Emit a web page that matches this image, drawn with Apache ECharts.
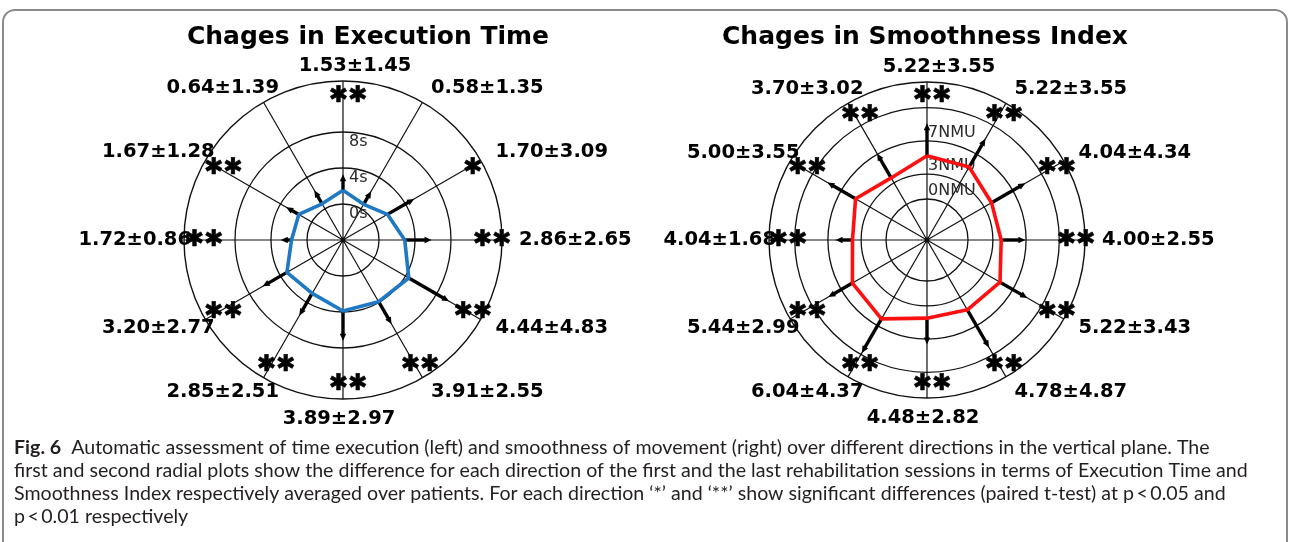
<!DOCTYPE html>
<html><head><meta charset="utf-8">
<script src="https://cdn.jsdelivr.net/npm/echarts@6/dist/echarts.min.js"></script>
<style>html,body{margin:0;padding:0;background:#fff}#c{width:1290px;height:542px}</style>
</head><body><div id="c"></div>
<script>
// ---- data ----
const directions = [90, 60, 30, 0, -30, -60, -90, -120, -150, 180, 150, 120];
const timeMean = [1.53, 0.58, 1.70, 2.86, 4.44, 3.91, 3.89, 2.85, 3.20, 1.72, 1.67, 0.64];
const timeStd  = [1.45, 1.35, 3.09, 2.65, 4.83, 2.55, 2.97, 2.51, 2.77, 0.86, 1.28, 1.39];
const timeSig  = ['**', '', '*', '**', '**', '**', '**', '**', '**', '**', '**', ''];
const smoothMean = [5.22, 5.22, 4.04, 4.00, 5.22, 4.78, 4.48, 6.04, 5.44, 4.04, 5.00, 3.70];
const smoothStd  = [3.55, 3.55, 4.34, 2.55, 3.43, 4.87, 2.82, 4.37, 2.99, 1.68, 3.55, 3.02];
const smoothSig  = ['**', '**', '**', '**', '**', '**', '**', '**', '**', '**', '**', '**'];
const timeRings = [0, 4, 8];
const timeTickLabels = [0, 4, 8];
const timeUnit = 's';
const smoothRings = [0, 3, 7, 11];
const smoothTickLabels = [0, 3, 7];
const smoothUnit = 'NMU';
const titles = ['Chages in Execution Time', 'Chages in Smoothness Index'];
const captionLines = [
  '{b|Fig. 6}  Automatic assessment of time execution (left) and smoothness of movement (right) over different directions in the vertical plane. The',
  'first and second radial plots show the difference for each direction of the first and the last rehabilitation sessions in terms of Execution Time and',
  'Smoothness Index respectively averaged over patients. For each direction \u2018*\u2019 and \u2018**\u2019 show significant differences (paired t-test) at p\u2009<\u20090.05 and',
  'p\u2009<\u20090.01 respectively'
];

// ---- layout/style ----
const FONT = '"DejaVu Sans"';
const panels = [
  {center: [343, 240], radius: 159, min: -4, max: 13.667, rings: timeRings, ticks: timeTickLabels, unit: timeUnit,
   mean: timeMean, std: timeStd, sig: timeSig, color: '#1f78c4', tickVA: 'top', tickMargin: -6, tickLH: 19, titleX: 368},
  {center: [927, 240], radius: 158, min: -4.94, max: 14.1, rings: smoothRings, ticks: smoothTickLabels, unit: smoothUnit,
   mean: smoothMean, std: smoothStd, sig: smoothSig, color: '#ff1010', tickVA: 'bottom', tickMargin: -1, tickLH: 16, titleX: 925}
];
// angle axis: value 0 at top, counter-clockwise; direction d (math degrees) -> axis value
const ang = d => ((d - 90) % 360 + 360) % 360;

const polar = [], angleAxis = [], radiusAxis = [], series = [], graphic = [];
panels.forEach((p, k) => {
  polar.push({center: p.center, radius: p.radius});
  angleAxis.push({polarIndex: k, type: 'value', min: 0, max: 360, interval: 30, startAngle: 90, clockwise: false,
    axisLine: {show: true, lineStyle: {color: '#111', width: 1.4}},
    axisTick: {show: false}, axisLabel: {show: false},
    splitLine: {show: true, lineStyle: {color: '#111', width: 1.2}}});
  radiusAxis.push({polarIndex: k, type: 'value', min: p.min, max: p.max,
    axisLine: {show: false},
    axisTick: {show: false, customValues: p.rings},
    axisLabel: {show: true, customValues: p.ticks, formatter: v => v + p.unit, margin: p.tickMargin, align: 'left',
      verticalAlign: p.tickVA, lineHeight: p.tickLH, fontFamily: FONT, fontSize: 16, color: '#2a2a2a'},
    splitLine: {show: true, lineStyle: {color: '#111', width: 1.3}}});

  // mean polygon
  const pts = p.mean.map((m, i) => [m, ang(directions[i])]);
  pts.push(pts[0]);
  series.push({type: 'line', coordinateSystem: 'polar', polarIndex: k, data: pts, symbol: 'none',
    lineStyle: {color: p.color, width: 3.6}, z: 5, silent: true, animation: false});

  // error bars
  series.push({type: 'custom', coordinateSystem: 'polar', polarIndex: k, z: 4, silent: true, animation: false,
    data: p.mean.map((m, i) => [m, ang(directions[i]), p.std[i]]),
    renderItem: (params, api) => {
      const m = api.value(0), a = api.value(1), sd = api.value(2);
      const p0 = api.coord([m, a]), p1 = api.coord([m + sd, a]);
      const dx = p1[0] - p0[0], dy = p1[1] - p0[1];
      const L = Math.hypot(dx, dy) || 1, ux = dx / L, uy = dy / L, nx = -uy, ny = ux;
      return {type: 'group', children: [
        {type: 'line', shape: {x1: p0[0], y1: p0[1], x2: p1[0] - ux * 3, y2: p1[1] - uy * 3},
         style: {stroke: '#000', lineWidth: 3.4}},
        {type: 'polygon', shape: {points: [
          [p1[0] + ux * 3, p1[1] + uy * 3],
          [p1[0] - ux * 4 + nx * 3.2, p1[1] - uy * 4 + ny * 3.2],
          [p1[0] - ux * 4 - nx * 3.2, p1[1] - uy * 4 - ny * 3.2]]},
         style: {fill: '#000'}}
      ]};
    }});

  // significance asterisks
  const starVal = p.min + (144 / p.radius) * (p.max - p.min);
  series.push({type: 'scatter', coordinateSystem: 'polar', polarIndex: k, symbolSize: 0, silent: true, animation: false, z: 6,
    itemStyle: {opacity: 1},
    data: p.sig.map((s, i) => ({value: [starVal, ang(directions[i])], sig: s})).filter(d => d.sig),
    label: {show: true, position: 'inside', offset: [5, 0], opacity: 1,
      formatter: q => q.data.sig.replace(/\*/g, '\u2731'),
      fontFamily: FONT, fontWeight: 'bold', fontSize: 23, color: '#000', textBorderColor: '#000', textBorderWidth: 0.6}});

  // value labels
  series.push({type: 'scatter', coordinateSystem: 'polar', polarIndex: k, symbolSize: 0, silent: true, animation: false, z: 6,
    itemStyle: {opacity: 1},
    data: p.mean.map((m, i) => {
      const d = directions[i], r = d * Math.PI / 180, c = Math.cos(r), s = Math.sin(r), g = 17;
      let align, offset;
      if (Math.abs(c) < 0.1) { align = 'center'; offset = s > 0 ? [12, -15] : [-4, 20]; }
      else if (c > 0) { align = 'left'; offset = [g * c, -g * s]; }
      else { align = 'right'; offset = [g * c + 24, -g * s]; }
      return {value: [p.max, ang(d)], txt: m.toFixed(2) + '\u00b1' + p.std[i].toFixed(2),
        label: {align: align, offset: offset}};
    }),
    label: {show: true, position: 'inside', verticalAlign: 'middle', formatter: q => q.data.txt, opacity: 1,
      fontFamily: FONT, fontWeight: 'bold', fontSize: 19.5, color: '#000', textBorderWidth: 0}});

  graphic.push({type: 'text', x: p.titleX, y: 37, z: 10,
    style: {text: titles[k], font: 'bold 25px "DejaVu Sans"', fill: '#000', textAlign: 'center', textVerticalAlign: 'middle'}});
});

graphic.push({type: 'rect', shape: {x: 3, y: 10, width: 1284, height: 600, r: 12},
  style: {fill: 'none', stroke: '#8a8a8a', lineWidth: 2}, z: 1});
captionLines.forEach((t, i) => {
  graphic.push({type: 'text', x: 14, y: 448 + i * 23, z: 10,
    style: {text: t, fontFamily: 'Lato', fontSize: 19.6, fill: '#231f20', textAlign: 'left', textVerticalAlign: 'middle',
      rich: {b: {fontFamily: 'Lato', fontWeight: 'bold', fontSize: 19.6, fill: '#231f20'}}}});
});

const chart = echarts.init(document.getElementById('c'), null, {renderer: 'canvas'});
chart.setOption({animation: false, polar, angleAxis, radiusAxis, series, graphic});
</script></body></html>
